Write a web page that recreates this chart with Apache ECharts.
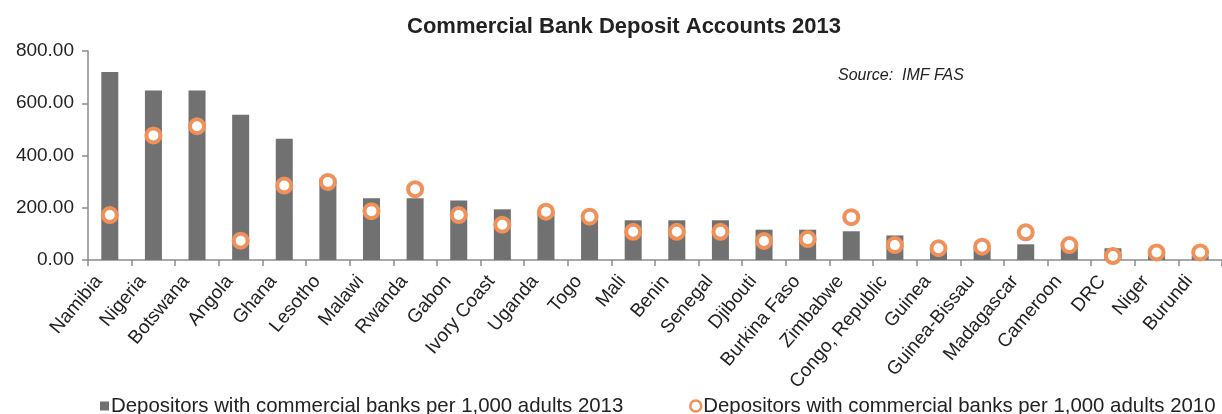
<!DOCTYPE html>
<html>
<head>
<meta charset="utf-8">
<title>Commercial Bank Deposit Accounts 2013</title>
<script src="https://cdn.jsdelivr.net/npm/echarts@6/dist/echarts.min.js"></script>
<style>
  html, body { margin: 0; padding: 0; background: #fff; }
  #chart { width: 1222px; height: 414px; }
</style>
</head>
<body>
<div id="chart"></div>
<script>
// categories and values
const countries = ['Namibia', 'Nigeria', 'Botswana', 'Angola', 'Ghana', 'Lesotho', 'Malawi', 'Rwanda',
  'Gabon', 'Ivory Coast', 'Uganda', 'Togo', 'Mali', 'Benin', 'Senegal', 'Djibouti', 'Burkina Faso',
  'Zimbabwe', 'Congo, Republic', 'Guinea', 'Guinea-Bissau', 'Madagascar', 'Cameroon', 'DRC', 'Niger', 'Burundi']
const depositors2013 = [720, 649, 649, 556, 464, 312, 236, 236, 228, 194, 180, 172, 152, 152, 152, 116, 116,
  110, 94, 40, 45, 60, 50, 45, 18, 15]
const depositors2010 = [172, 477, 512, 74, 285, 299, 187, 271, 172, 135, 185, 166, 108, 108, 108, 73, 80,
  164, 57, 45, 51, 106, 57, 15, 29, 29]
const yTicks = [0, 200, 400, 600, 800]

const barName = 'Depositors with commercial banks per 1,000 adults 2013'
const dotName = 'Depositors with commercial banks per 1,000 adults 2010'

const textColor = '#222'
const axisColor = '#8c8c8c'
const barColor = '#717171'
const dotColor = '#ef9158'
const font = 'Liberation Sans, Arial, sans-serif'

const chart = echarts.init(document.getElementById('chart'))

const option = {
  animation: false,
  textStyle: { fontFamily: font, color: textColor },
  title: {
    text: 'Commercial Bank Deposit Accounts 2013',
    left: 402,
    top: 11,
    textStyle: { fontFamily: font, fontSize: 22, fontWeight: 'bold', color: textColor }
  },
  graphic: [{
    type: 'text',
    left: 838,
    top: 68,
    style: { text: 'Source:  IMF FAS', font: 'italic 16px ' + font, fill: textColor }
  }],
  legend: [
    {
      data: [{ name: barName, icon: 'rect' }],
      left: 95,
      top: 391,
      itemWidth: 9,
      itemHeight: 9,
      textStyle: { fontFamily: font, fontSize: 20.4, color: textColor, padding: [0, 0, 0, -3] }
    },
    {
      data: [{ name: dotName, icon: 'circle', itemStyle: { color: '#fff', borderColor: dotColor, borderWidth: 2.5, opacity: 1 } }],
      left: 684,
      top: 391,
      itemWidth: 11,
      itemHeight: 11,
      textStyle: { fontFamily: font, fontSize: 20.4, color: textColor, padding: [0, 0, 0, -3] }
    }
  ],
  grid: { left: 88, top: 51, width: 1136, height: 209 },
  xAxis: {
    type: 'category',
    data: countries,
    axisLine: { lineStyle: { color: axisColor, width: 1.5 } },
    axisTick: { show: true, length: 6, lineStyle: { color: axisColor, width: 1.5 } },
    axisLabel: {
      rotate: 50, interval: 0, fontSize: 19, color: textColor, fontFamily: font,
      margin: 5, padding: [0, 17, 0, 0]
    }
  },
  yAxis: {
    type: 'value',
    min: yTicks[0],
    max: yTicks[yTicks.length - 1],
    interval: 200,
    axisLine: { show: true, lineStyle: { color: axisColor, width: 1.5 } },
    axisTick: { show: true, length: 6, lineStyle: { color: axisColor, width: 1.5 } },
    splitLine: { show: false },
    axisLabel: {
      fontSize: 19, color: textColor, fontFamily: font, margin: 14,
      formatter: v => v.toFixed(2)
    }
  },
  series: [
    {
      name: barName,
      type: 'bar',
      data: depositors2013,
      barWidth: 17,
      itemStyle: { color: barColor }
    },
    {
      name: dotName,
      type: 'scatter',
      data: depositors2010,
      symbol: 'circle',
      symbolSize: 14,
      itemStyle: { color: '#fff', borderColor: dotColor, borderWidth: 4, opacity: 1 },
      z: 3
    }
  ]
}

option && chart.setOption(option)
</script>
</body>
</html>
